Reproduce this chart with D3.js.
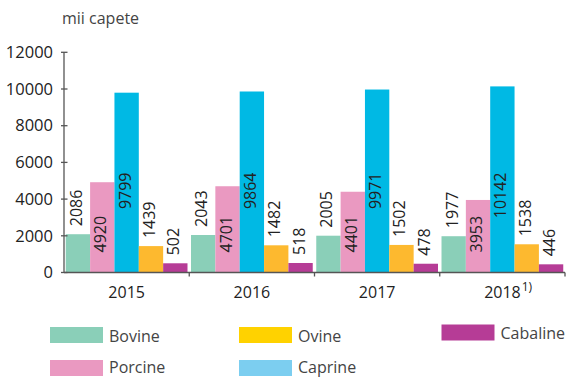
<!DOCTYPE html>
<html>
<head>
<meta charset="utf-8">
<script src="https://cdn.jsdelivr.net/npm/d3@7"></script>
<style>
  html, body { margin: 0; padding: 0; background: #fff; }
  svg { display: block; font-family: "Open Sans", "Noto Sans", sans-serif; }
</style>
</head>
<body>
<svg id="chart" width="567" height="377"></svg>
<script>
// Livestock numbers, thousand heads, by year
const years = ["2015", "2016", "2017", "2018"];
const yearNotes = ["", "", "", "1)"];
const seriesNames = ["Bovine", "Porcine", "Caprine", "Ovine", "Cabaline"];
const bovine   = [2086, 2043, 2005, 1977];
const porcine  = [4920, 4701, 4401, 3953];
const caprine  = [9799, 9864, 9971, 10142];
const ovine    = [1439, 1482, 1502, 1538];
const cabaline = [502, 518, 478, 446];
const yTicks = [0, 2000, 4000, 6000, 8000, 10000, 12000];
const unitLabel = "mii capete";

const seriesValues = [bovine, porcine, caprine, ovine, cabaline];
const barColors = ["#8acfb8", "#ea99c1", "#00b9e4", "#fdb92f", "#b63c96"];
const legendColors = ["#8acfb8", "#ea99c1", "#7ccef0", "#ffd200", "#b63c96"];

const svg = d3.select("#chart");
const plotLeft = 64, plotRight = 565, plotTop = 52.3, plotBottom = 272.5;

const x = d3.scaleBand().domain(years).range([plotLeft, plotRight]).paddingInner(0).paddingOuter(0);
const xs = d3.scaleBand().domain(seriesNames).range([0, x.bandwidth()]).paddingInner(0).paddingOuter(0.072);
const y = d3.scaleLinear().domain([0, 12000]).range([plotBottom, plotTop]);

// Bars
const rows = years.map((yr, i) => ({ year: yr, values: seriesNames.map((s, k) => ({ name: s, k, value: seriesValues[k][i] })) }));
const groups = svg.append("g").selectAll("g").data(rows).join("g")
  .attr("transform", d => `translate(${x(d.year)},0)`);
groups.selectAll("rect").data(d => d.values).join("rect")
  .attr("x", d => xs(d.name))
  .attr("y", d => y(d.value))
  .attr("width", xs.bandwidth())
  .attr("height", d => y(0) - y(d.value))
  .attr("fill", d => barColors[d.k]);

// Value labels, rotated; two series sit inside their bars
groups.selectAll("text").data(d => d.values).join("text")
  .attr("transform", d => {
    const cx = xs(d.name) + xs.bandwidth() / 2 + 4;
    let ty;
    if (d.k === 1) ty = y(0) - 20;
    else if (d.k === 2) ty = y(0) - 100;
    else ty = y(d.value) - 8;
    return `translate(${cx},${ty}) rotate(-90)`;
  })
  .attr("text-anchor", d => d.k === 2 ? "end" : "start")
  .attr("font-size", 16)
  .attr("fill", "#222")
  .text(d => d.value);

// Y axis
const yAxis = svg.append("g").attr("transform", `translate(${plotLeft},0)`);
yAxis.append("line").attr("x1", 0).attr("x2", 0).attr("y1", y(12000)).attr("y2", y(0))
  .attr("stroke", "#555").attr("stroke-width", 1.3);
yAxis.selectAll("line.tick").data(yTicks).join("line").attr("class", "tick")
  .attr("x1", -3).attr("x2", 3.5).attr("y1", d => y(d)).attr("y2", d => y(d))
  .attr("stroke", "#555").attr("stroke-width", 1.3);
yAxis.selectAll("text").data(yTicks).join("text")
  .attr("x", -11).attr("y", d => y(d)).attr("dy", "0.35em")
  .attr("text-anchor", "end").attr("font-size", 16.5).attr("fill", "#222")
  .text(d => d);

// X axis
const xAxis = svg.append("g");
xAxis.append("line").attr("x1", plotLeft).attr("x2", plotRight).attr("y1", y(0)).attr("y2", y(0))
  .attr("stroke", "#555").attr("stroke-width", 1.3);
xAxis.selectAll("line.tick").data(years).join("line").attr("class", "tick")
  .attr("x1", d => x(d) + x.bandwidth()).attr("x2", d => x(d) + x.bandwidth())
  .attr("y1", y(0)).attr("y2", y(0) + 4)
  .attr("stroke", "#555").attr("stroke-width", 1.3);
const yearText = xAxis.selectAll("text").data(years).join("text")
  .attr("x", d => x(d) + x.bandwidth() / 2).attr("y", 297.5)
  .attr("font-size", 16).attr("fill", "#222");
yearText.each(function (d, i) {
  const t = d3.select(this);
  if (yearNotes[i]) {
    const w = 36.5;
    t.attr("x", x(d) + x.bandwidth() / 2 - w / 2).attr("text-anchor", "start");
    t.append("tspan").text(d);
    t.append("tspan").attr("font-size", 12).attr("dy", -7).attr("dx", 1).text(yearNotes[i]);
  } else {
    t.attr("text-anchor", "middle").text(d);
  }
});

// Unit label
svg.append("text").attr("x", 62).attr("y", 24).attr("font-size", 16).attr("fill", "#444").text(unitLabel);

// Legend
const legendPos = [
  { x: 50, y: 327 }, { x: 50, y: 360 }, { x: 239, y: 360 }, { x: 239, y: 327 }, { x: 441.5, y: 324.5 }
];
const leg = svg.append("g").selectAll("g").data(seriesNames).join("g")
  .attr("transform", (d, i) => `translate(${legendPos[i].x},${legendPos[i].y})`);
leg.append("rect").attr("width", 53).attr("height", 16).attr("fill", (d, i) => legendColors[i]);
leg.append("text").attr("x", 59).attr("y", (d, i) => legendPos[i].y > 350 ? 12.5 : 14.5)
  .attr("font-size", 16).attr("fill", "#444").text(d => d);
</script>
</body>
</html>
